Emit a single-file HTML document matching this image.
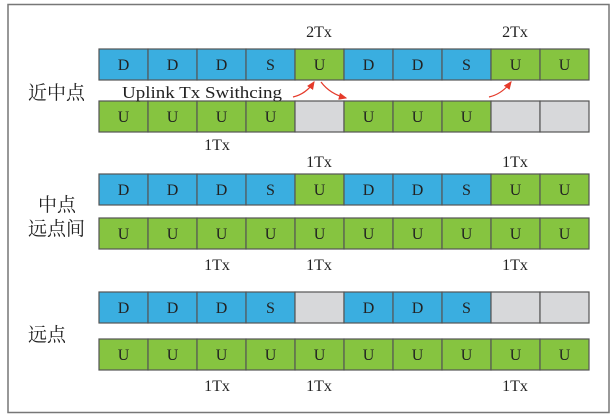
<!DOCTYPE html><html><head><style>body{margin:0;background:#fff}svg{display:block}text{font-family:"Liberation Serif","Noto Serif CJK SC",serif;fill:#222}.b{fill:#3aaee0}.g{fill:#86c440}.n{fill:#d7d8da}</style></head><body>
<svg width="614" height="419" viewBox="0 0 614 419" xmlns="http://www.w3.org/2000/svg">
<rect x="8" y="4.5" width="601" height="408" fill="#fff" stroke="#777" stroke-width="1.5"/>
<defs><marker id="a" markerWidth="8" markerHeight="8" refX="6" refY="3" orient="auto"><path d="M0,0 L7,3 L0,6z" fill="#e53a2a"/></marker></defs>
<g stroke="#555" stroke-width="1.2" font-size="16" text-anchor="middle">
<g transform="translate(0,49)">
<rect class="b" x="99" width="49" height="31"/><rect class="b" x="148" width="49" height="31"/><rect class="b" x="197" width="49" height="31"/><rect class="b" x="246" width="49" height="31"/><rect class="g" x="295" width="49" height="31"/><rect class="b" x="344" width="49" height="31"/><rect class="b" x="393" width="49" height="31"/><rect class="b" x="442" width="49" height="31"/><rect class="g" x="491" width="49" height="31"/><rect class="g" x="540" width="49" height="31"/>
<g stroke="none"><text x="123.5" y="21">D</text><text x="172.5" y="21">D</text><text x="221.5" y="21">D</text><text x="270.5" y="21">S</text><text x="319.5" y="21">U</text><text x="368.5" y="21">D</text><text x="417.5" y="21">D</text><text x="466.5" y="21">S</text><text x="515.5" y="21">U</text><text x="564.5" y="21">U</text></g></g>
<g transform="translate(0,101)">
<rect class="g" x="99" width="49" height="31"/><rect class="g" x="148" width="49" height="31"/><rect class="g" x="197" width="49" height="31"/><rect class="g" x="246" width="49" height="31"/><rect class="n" x="295" width="49" height="31"/><rect class="g" x="344" width="49" height="31"/><rect class="g" x="393" width="49" height="31"/><rect class="g" x="442" width="49" height="31"/><rect class="n" x="491" width="49" height="31"/><rect class="n" x="540" width="49" height="31"/>
<g stroke="none"><text x="123.5" y="21">U</text><text x="172.5" y="21">U</text><text x="221.5" y="21">U</text><text x="270.5" y="21">U</text><text x="368.5" y="21">U</text><text x="417.5" y="21">U</text><text x="466.5" y="21">U</text></g></g>
<g transform="translate(0,174)">
<rect class="b" x="99" width="49" height="31"/><rect class="b" x="148" width="49" height="31"/><rect class="b" x="197" width="49" height="31"/><rect class="b" x="246" width="49" height="31"/><rect class="g" x="295" width="49" height="31"/><rect class="b" x="344" width="49" height="31"/><rect class="b" x="393" width="49" height="31"/><rect class="b" x="442" width="49" height="31"/><rect class="g" x="491" width="49" height="31"/><rect class="g" x="540" width="49" height="31"/>
<g stroke="none"><text x="123.5" y="21">D</text><text x="172.5" y="21">D</text><text x="221.5" y="21">D</text><text x="270.5" y="21">S</text><text x="319.5" y="21">U</text><text x="368.5" y="21">D</text><text x="417.5" y="21">D</text><text x="466.5" y="21">S</text><text x="515.5" y="21">U</text><text x="564.5" y="21">U</text></g></g>
<g transform="translate(0,218)">
<rect class="g" x="99" width="49" height="31"/><rect class="g" x="148" width="49" height="31"/><rect class="g" x="197" width="49" height="31"/><rect class="g" x="246" width="49" height="31"/><rect class="g" x="295" width="49" height="31"/><rect class="g" x="344" width="49" height="31"/><rect class="g" x="393" width="49" height="31"/><rect class="g" x="442" width="49" height="31"/><rect class="g" x="491" width="49" height="31"/><rect class="g" x="540" width="49" height="31"/>
<g stroke="none"><text x="123.5" y="21">U</text><text x="172.5" y="21">U</text><text x="221.5" y="21">U</text><text x="270.5" y="21">U</text><text x="319.5" y="21">U</text><text x="368.5" y="21">U</text><text x="417.5" y="21">U</text><text x="466.5" y="21">U</text><text x="515.5" y="21">U</text><text x="564.5" y="21">U</text></g></g>
<g transform="translate(0,292)">
<rect class="b" x="99" width="49" height="31"/><rect class="b" x="148" width="49" height="31"/><rect class="b" x="197" width="49" height="31"/><rect class="b" x="246" width="49" height="31"/><rect class="n" x="295" width="49" height="31"/><rect class="b" x="344" width="49" height="31"/><rect class="b" x="393" width="49" height="31"/><rect class="b" x="442" width="49" height="31"/><rect class="n" x="491" width="49" height="31"/><rect class="n" x="540" width="49" height="31"/>
<g stroke="none"><text x="123.5" y="21">D</text><text x="172.5" y="21">D</text><text x="221.5" y="21">D</text><text x="270.5" y="21">S</text><text x="368.5" y="21">D</text><text x="417.5" y="21">D</text><text x="466.5" y="21">S</text></g></g>
<g transform="translate(0,339)">
<rect class="g" x="99" width="49" height="31"/><rect class="g" x="148" width="49" height="31"/><rect class="g" x="197" width="49" height="31"/><rect class="g" x="246" width="49" height="31"/><rect class="g" x="295" width="49" height="31"/><rect class="g" x="344" width="49" height="31"/><rect class="g" x="393" width="49" height="31"/><rect class="g" x="442" width="49" height="31"/><rect class="g" x="491" width="49" height="31"/><rect class="g" x="540" width="49" height="31"/>
<g stroke="none"><text x="123.5" y="21">U</text><text x="172.5" y="21">U</text><text x="221.5" y="21">U</text><text x="270.5" y="21">U</text><text x="319.5" y="21">U</text><text x="368.5" y="21">U</text><text x="417.5" y="21">U</text><text x="466.5" y="21">U</text><text x="515.5" y="21">U</text><text x="564.5" y="21">U</text></g></g>
</g>
<g fill="none" stroke="#e53a2a" stroke-width="1.2" marker-end="url(#a)">
<path d="M293,97 Q306,94 314,82"/><path d="M321,82 Q330,94 346,98"/><path d="M489,97 Q502,94 511,82"/></g>
<g font-size="16" text-anchor="middle">
<text x="319" y="37">2Tx</text><text x="515" y="37">2Tx</text>
<text x="217" y="150">1Tx</text>
<text x="319" y="167">1Tx</text><text x="515" y="167">1Tx</text>
<text x="217" y="270">1Tx</text><text x="319" y="270">1Tx</text><text x="515" y="270">1Tx</text>
<text x="217" y="391">1Tx</text><text x="319" y="391">1Tx</text><text x="515" y="391">1Tx</text>
</g>
<text x="122" y="98" font-size="17" textLength="160" lengthAdjust="spacingAndGlyphs">Uplink Tx Swithcing</text>
<g font-size="19" font-family="Noto Serif CJK SC"><text x="28" y="99">近中点</text><text x="38" y="211">中点</text><text x="28" y="235">远点间</text><text x="28" y="341">远点</text></g>
</svg></body></html>
